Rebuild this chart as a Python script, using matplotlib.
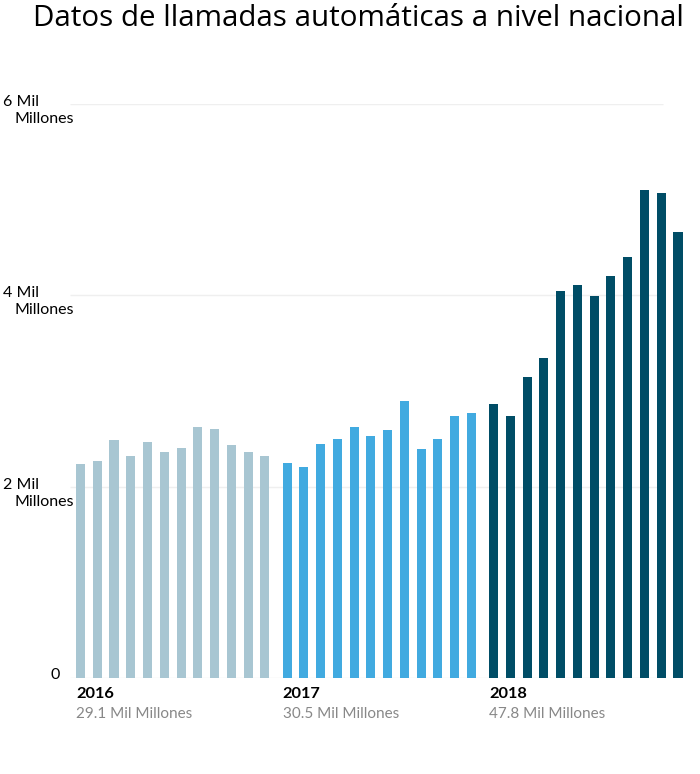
import numpy as np
import matplotlib.pyplot as plt

plt.rcParams['font.family'] = ['Lato', 'DejaVu Sans']

years = ["2016", "2017", "2018"]
totals = ["29.1 Mil Millones", "30.5 Mil Millones", "47.8 Mil Millones"]
calls_2016 = [2.24, 2.27, 2.49, 2.32, 2.47, 2.36, 2.40, 2.62, 2.60, 2.44, 2.36, 2.32]
calls_2017 = [2.25, 2.21, 2.45, 2.50, 2.62, 2.53, 2.59, 2.90, 2.39, 2.50, 2.74, 2.77]
calls_2018 = [2.86, 2.74, 3.15, 3.34, 4.05, 4.11, 3.99, 4.20, 4.40, 5.10, 5.07, 4.66]
colors = ["#a8c6d2", "#41aae0", "#004d66"]

y_ticks = [0, 2, 4, 6]
y_labels = ["0", "2 Mil", "4 Mil", "6 Mil"]

fig = plt.figure(figsize=(7, 7.74), dpi=100)
ax = fig.add_axes([0.1, 0.124, 0.8857, 0.7416])

gap = 0.32
series = [calls_2016, calls_2017, calls_2018]
for k, vals in enumerate(series):
    x = np.arange(len(vals)) + k * (len(vals) + gap)
    ax.bar(x, vals, width=0.54, color=colors[k], zorder=2)
    ax.annotate(years[k], (x[0] - 0.27, 0), xytext=(0, -9), textcoords='offset pixels',
                ha='left', va='top', fontsize=11.8, fontweight='bold', color='black')
    ax.annotate(totals[k], (x[0] - 0.27, 0), xytext=(0, -29), textcoords='offset pixels',
                ha='left', va='top', fontsize=11, color='#888888')

last = 35 + 2 * gap
ax.set_xlim(-0.626, last + 0.716)
ax.set_ylim(0, 6)
ax.hlines(y_ticks, -0.626, 34.73, color='#efefef', lw=1, zorder=1)

for t, lab in zip(y_ticks, y_labels):
    if t == 0:
        ax.annotate(lab, (-0.626, 0), xytext=(-10, 3), textcoords='offset pixels',
                    ha='right', va='center', fontsize=11.5, color='black')
    else:
        ax.annotate(lab, (-0.626, t), xytext=(-67, 2), textcoords='offset pixels',
                    ha='left', va='center', fontsize=11.5, color='black')
        ax.annotate("Millones", (-0.626, t), xytext=(-55, -15), textcoords='offset pixels',
                    ha='left', va='center', fontsize=11.5, color='black')

ax.axis('off')
fig.text(0.0471, 0.976, "Datos de llamadas automáticas a nivel nacional",
         ha='left', va='center', fontsize=21.3, color='black',
         family=['Open Sans', 'DejaVu Sans'])

fig.savefig("out.png", dpi=100)
